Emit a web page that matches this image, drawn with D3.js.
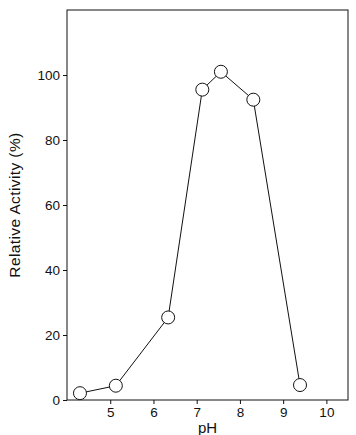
<!DOCTYPE html>
<html>
<head>
<meta charset="utf-8">
<script src="https://cdn.jsdelivr.net/npm/d3@7"></script>
<style>
  body { margin: 0; background: #fff; }
  svg { display: block; font-family: "Liberation Sans", Arial, sans-serif; }
  .axis text { font-size: 13.5px; fill: #111; }
  .axis path, .axis line { stroke: #111; }
</style>
</head>
<body>
<div id="chart"></div>
<script>
const W = 356, H = 435;
const margin = { top: 10, right: 8, bottom: 35, left: 67 };

// pH vs relative activity
const phValues = [4.3, 5.13, 6.34, 7.13, 7.56, 8.31, 9.39];
const activity = [2.1, 4.4, 25.4, 95.5, 101, 92.4, 4.6];
const xTicks = [5, 6, 7, 8, 9, 10];
const yTicks = [0, 20, 40, 60, 80, 100];

const svg = d3.select("#chart").append("svg")
  .attr("width", W).attr("height", H);

const x = d3.scaleLinear().domain([4, 10.5]).range([margin.left, W - margin.right]);
const y = d3.scaleLinear().domain([0, 120]).range([H - margin.bottom, margin.top]);

// frame
svg.append("rect")
  .attr("x", margin.left).attr("y", margin.top)
  .attr("width", W - margin.left - margin.right)
  .attr("height", H - margin.top - margin.bottom)
  .attr("fill", "none").attr("stroke", "#111").attr("stroke-width", 1);

svg.append("g").attr("class", "axis")
  .attr("transform", `translate(0,${H - margin.bottom})`)
  .call(d3.axisBottom(x).tickValues(xTicks).tickFormat(d3.format("d")).tickSize(4).tickPadding(3))
  .call(g => g.select(".domain").remove());

svg.append("g").attr("class", "axis")
  .attr("transform", `translate(${margin.left},0)`)
  .call(d3.axisLeft(y).tickValues(yTicks).tickFormat(d3.format("d")).tickSize(4).tickPadding(3))
  .call(g => g.select(".domain").remove());

const pts = phValues.map((p, i) => ({ x: p, y: activity[i] }));

svg.append("path")
  .datum(pts)
  .attr("fill", "none").attr("stroke", "#111").attr("stroke-width", 1)
  .attr("d", d3.line().x(d => x(d.x)).y(d => y(d.y)));

svg.selectAll(".pt").data(pts).enter().append("circle")
  .attr("class", "pt")
  .attr("cx", d => x(d.x)).attr("cy", d => y(d.y))
  .attr("r", 6.5)
  .attr("fill", "#fff").attr("stroke", "#111").attr("stroke-width", 1);

svg.append("text")
  .attr("x", (margin.left + W - margin.right) / 2).attr("y", 433)
  .attr("text-anchor", "middle").attr("font-size", 15).attr("fill", "#111")
  .text("pH");

svg.append("text")
  .attr("transform", `translate(20,205) rotate(-90)`)
  .attr("text-anchor", "middle").attr("font-size", 15.5).attr("fill", "#111")
  .attr("letter-spacing", 0.4)
  .text("Relative Activity (%)");
</script>
</body>
</html>
